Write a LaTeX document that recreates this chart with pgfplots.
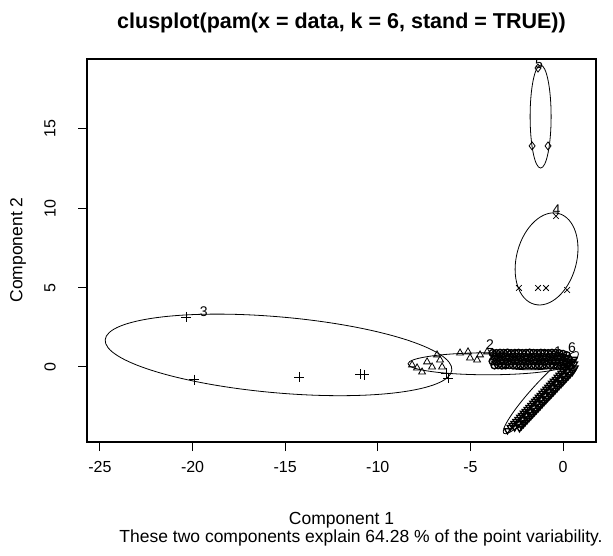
\documentclass[border=0pt]{standalone}
\usepackage{pgfplots}
\pgfplotsset{compat=1.18}
\usepackage{fontspec}
\setmainfont{Liberation Sans}
\begin{document}
\begin{tikzpicture}
\path[use as bounding box] (0,0) rectangle (613pt,555pt);
\begin{axis}[at={(87pt,113pt)}, anchor=south west, scale only axis,
  width=509pt, height=383pt,
  xmin=-25.70, xmax=1.78, ymin=-4.73, ymax=19.41,
  axis line style={line width=1.1pt},
  tick align=outside, tick pos=left, major tick length=9pt,
  every tick/.style={black, line width=1pt},
  xtick={-25,-20,-15,-10,-5,0}, xticklabels={{-25},{-20},{-15},{-10},{-5},{0}},
  ytick={0,5,10,15}, yticklabels={{0},{5},{10},{15}},
  xticklabel style={font=\fontsize{16}{18}\selectfont, anchor=center, yshift=-16pt},
  yticklabel style={font=\fontsize{16}{18}\selectfont, rotate=90, anchor=center, yshift=28pt},
  every axis plot/.append style={only marks, black, line width=0.8pt},
]
% cluster 3 (plus)
\addplot[mark=+, mark size=5pt] coordinates {
(-20.36,3.15) (-19.90,-0.80) (-14.25,-0.63) (-10.95,-0.45) (-10.75,-0.50) (-6.20,-0.70) (-6.30,-0.40)
};
% cluster 5 (diamond)
\addplot[mark=diamond, mark size=4pt] coordinates {
(-1.67,13.93) (-0.81,13.93) (-1.35,18.84)
};
% cluster 4 (x)
\addplot[mark=x, mark size=4pt] coordinates {
(-2.38,4.98) (-1.35,4.98) (-0.92,4.98) (0.22,4.85) (-0.38,9.51)
};
% cluster 2 (triangles)
\addplot[mark=triangle, mark size=4pt] coordinates {
(-8.15,0.13) (-7.88,-0.06) (-7.61,-0.32) (-7.34,0.32) (-7.07,0.00) (-6.80,0.76) (-6.64,0.44)
(-6.53,0.00) (-5.56,0.88) (-5.13,0.95) (-5.02,0.57) (-4.64,0.44) (-4.48,0.76) (-4.10,0.95) (-3.75,0.85)
};
% cluster 1 (circles, horizontal band)
\addplot[mark=o, mark size=3.5pt, line width=1.4pt] coordinates {
(-3.80,0.88) (-3.60,0.87) (-3.40,0.89) (-3.20,0.88) (-3.00,0.90) (-2.80,0.87) (-2.60,0.88) (-2.40,0.89)
(-2.20,0.87) (-2.00,0.88) (-1.80,0.90) (-1.60,0.88) (-1.40,0.87) (-1.20,0.89) (-1.00,0.88) (-0.80,0.87)
(-0.60,0.89) (-0.40,0.88) (-0.20,0.86) (0.00,0.82) (0.20,0.74)
(-3.70,0.62) (-3.50,0.61) (-3.30,0.63) (-3.10,0.62) (-2.90,0.60) (-2.70,0.62) (-2.50,0.63) (-2.30,0.61)
(-2.10,0.62) (-1.90,0.60) (-1.70,0.62) (-1.50,0.63) (-1.30,0.61) (-1.10,0.62) (-0.90,0.60) (-0.70,0.62)
(-0.50,0.63) (-0.30,0.61) (-0.10,0.60) (0.10,0.55) (0.30,0.50)
(-3.80,0.36) (-3.60,0.35) (-3.40,0.37) (-3.20,0.36) (-3.00,0.34) (-2.80,0.36) (-2.60,0.37) (-2.40,0.35)
(-2.20,0.36) (-2.00,0.34) (-1.80,0.36) (-1.60,0.37) (-1.40,0.35) (-1.20,0.36) (-1.00,0.34) (-0.80,0.36)
(-0.60,0.37) (-0.40,0.35) (-0.20,0.33) (0.00,0.30) (0.20,0.26)
(-3.70,0.10) (-3.50,0.11) (-3.30,0.09) (-3.10,0.10) (-2.90,0.12) (-2.70,0.10) (-2.50,0.09) (-2.30,0.11)
(-2.10,0.10) (-1.90,0.12) (-1.70,0.10) (-1.50,0.09) (-1.30,0.11) (-1.10,0.10) (-0.90,0.12) (-0.70,0.10)
(-0.50,0.09) (-0.30,0.08) (-0.10,0.06) (0.10,0.03)
};
% cluster 6 (down triangles, diagonal band)
\addplot[mark=triangle, mark size=3.5pt, line width=1.3pt, mark options={rotate=180}] coordinates {
(-3.00,-4.00) (-2.85,-3.80) (-2.65,-3.55) (-2.44,-3.29) (-2.24,-3.04) (-2.04,-2.79) (-1.84,-2.54) (-1.63,-2.28)
(-1.43,-2.03) (-1.23,-1.78) (-1.02,-1.52) (-0.82,-1.27) (-0.62,-1.02) (-0.41,-0.77) (-0.21,-0.51)
(-0.01,-0.26) (0.19,-0.01) (0.40,0.25) (0.60,0.50)
(-2.75,-3.67) (-2.55,-3.42) (-2.34,-3.16) (-2.14,-2.91) (-1.94,-2.66) (-1.74,-2.41) (-1.53,-2.15)
(-1.33,-1.90) (-1.13,-1.65) (-0.92,-1.39) (-0.72,-1.14) (-0.52,-0.89) (-0.31,-0.64) (-0.11,-0.38)
(0.09,-0.13) (0.29,0.12) (0.50,0.38)
(-2.61,-3.82) (-2.41,-3.57) (-2.20,-3.31) (-2.00,-3.06) (-1.80,-2.81) (-1.60,-2.56) (-1.39,-2.30)
(-1.19,-2.05) (-0.99,-1.80) (-0.78,-1.54) (-0.58,-1.29) (-0.38,-1.04) (-0.17,-0.79) (0.03,-0.53)
(0.23,-0.28) (0.43,-0.03) (0.62,0.20)
(-2.35,-3.87) (-2.14,-3.61) (-1.94,-3.36) (-1.74,-3.11) (-1.54,-2.86) (-1.33,-2.60) (-1.13,-2.35)
(-0.93,-2.10) (-0.72,-1.84) (-0.52,-1.59) (-0.32,-1.34) (-0.11,-1.09) (0.09,-0.83) (0.29,-0.58)
(0.50,-0.33) (0.65,-0.05)
(-2.25,-3.74) (-2.04,-3.48) (-1.84,-3.23) (-1.64,-2.98) (-1.44,-2.73) (-1.23,-2.47) (-1.03,-2.22)
(-0.83,-1.97) (-0.62,-1.71) (-0.42,-1.46) (-0.22,-1.21) (-0.01,-0.96) (0.19,-0.70) (0.39,-0.45) (0.58,-0.18)
};
% ellipses
\draw[line width=0.8pt, rotate around={-5:(axis cs:-15.36,0.76)}] (axis cs:-15.36,0.76) ellipse [x radius=174pt, y radius=38pt];
\draw[line width=0.8pt] (axis cs:-1.21,15.78) ellipse [x radius=10.5pt, y radius=51.5pt];
\draw[line width=0.8pt, rotate around={-15:(axis cs:-0.89,6.81)}] (axis cs:-0.89,6.81) ellipse [x radius=30pt, y radius=47pt];
\draw[line width=0.8pt, rotate around={47.7:(axis cs:-1.20,-1.62)}] (axis cs:-1.20,-1.62) ellipse [x radius=55pt, y radius=9pt];
\draw[line width=0.8pt] (axis cs:-4.05,0.20) ellipse [x radius=80pt, y radius=11pt];
\draw[line width=0.8pt] (axis cs:-1.75,0.45) ellipse [x radius=40pt, y radius=10pt];
% cluster labels
\node[font=\fontsize{14}{16}\selectfont] at (axis cs:-19.4,3.5) {3};
\node[font=\fontsize{14}{16}\selectfont] at (axis cs:-1.3,19.1) {5};
\node[font=\fontsize{14}{16}\selectfont] at (axis cs:-0.35,9.9) {4};
\node[font=\fontsize{14}{16}\selectfont] at (axis cs:-3.94,1.39) {2};
\node[font=\fontsize{14}{16}\selectfont] at (axis cs:0.49,1.2) {6};
\node[font=\fontsize{14}{16}\selectfont] at (axis cs:-0.27,0.95) {1};
\end{axis}
\node[font=\fontsize{21.5}{24}\selectfont\bfseries] at (341.5pt,532pt) {clusplot(pam(x = data, k = 6, stand = TRUE))};
\node[font=\fontsize{17.5}{20}\selectfont, rotate=90] at (18pt,305pt) {Component 2};
\node[font=\fontsize{17.5}{20}\selectfont] at (341.5pt,35pt) {Component 1};
\node[font=\fontsize{17.5}{20}\selectfont] at (361pt,17pt) {These two components explain 64.28 \% of the point variability.};
\end{tikzpicture}
\end{document}
